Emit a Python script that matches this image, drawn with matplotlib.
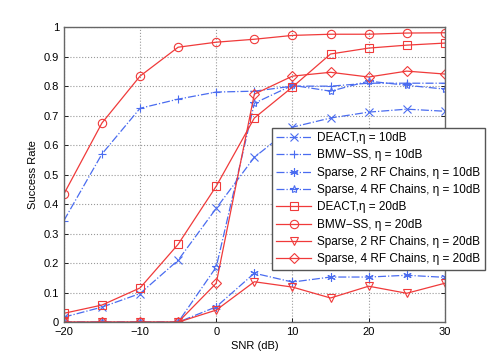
import numpy as np
import matplotlib.pyplot as plt

plt.rcParams['font.family'] = ['Liberation Sans', 'DejaVu Sans']
plt.rcParams['font.size'] = 8

snr = [-20, -15, -10, -5, 0, 5, 10, 15, 20, 25, 30]

deact_10 = [0.017, 0.051, 0.097, 0.21, 0.386, 0.559, 0.661, 0.692, 0.712, 0.722, 0.715]
bmw_10 = [0.344, 0.570, 0.725, 0.756, 0.780, 0.783, 0.800, 0.800, 0.810, 0.810, 0.810]
sp2_10 = [0, 0, 0, 0, 0.052, 0.166, 0.136, 0.153, 0.153, 0.159, 0.152]
sp4_10 = [0, 0, 0, 0, 0.187, 0.742, 0.803, 0.783, 0.817, 0.803, 0.790]

deact_20 = [0.030, 0.058, 0.116, 0.264, 0.461, 0.692, 0.797, 0.909, 0.929, 0.939, 0.946]
bmw_20 = [0.434, 0.675, 0.834, 0.932, 0.949, 0.959, 0.972, 0.976, 0.976, 0.980, 0.981]
sp2_20 = [0, 0, 0, 0, 0.041, 0.137, 0.119, 0.082, 0.122, 0.098, 0.132]
sp4_20 = [0, 0, 0, 0, 0.132, 0.773, 0.834, 0.847, 0.831, 0.851, 0.841]

labels = ['DEACT,\u03b7 = 10dB', 'BMW\u2212SS, \u03b7 = 10dB',
          'Sparse, 2 RF Chains, \u03b7 = 10dB', 'Sparse, 4 RF Chains, \u03b7 = 10dB',
          'DEACT,\u03b7 = 20dB', 'BMW\u2212SS, \u03b7 = 20dB',
          'Sparse, 2 RF Chains, \u03b7 = 20dB', 'Sparse, 4 RF Chains, \u03b7 = 20dB']

blue = '#4a6cf0'
red = '#f03a3a'

fig = plt.figure(figsize=(4.91, 3.62), dpi=100)
ax = fig.add_axes([0.13, 0.11, 0.776, 0.815])

kw_b = dict(color=blue, ls='-.', lw=0.9, mfc='none', ms=6, mew=0.8)
kw_r = dict(color=red, ls='-', lw=0.9, mfc='none', ms=6, mew=0.8)

ax.plot(snr, deact_10, marker='x', label=labels[0], **kw_b)
ax.plot(snr, bmw_10, marker='+', label=labels[1], **kw_b)
ax.plot(snr, sp2_10, marker=(6, 2, 0), label=labels[2], **kw_b)
ax.plot(snr, sp4_10, marker='*', label=labels[3], **kw_b)
ax.plot(snr, deact_20, marker='s', label=labels[4], **kw_r)
ax.plot(snr, bmw_20, marker='o', label=labels[5], **kw_r)
ax.plot(snr, sp2_20, marker='v', label=labels[6], **kw_r)
ax.plot(snr, sp4_20, marker='D', label=labels[7], **{**kw_r, 'ms': 5})

ax.set_xlim(-20, 30)
ax.set_ylim(0, 1)
ax.set_xticks([-20, -10, 0, 10, 20, 30])
ax.set_yticks(np.arange(0, 1.01, 0.1))
ax.set_xticklabels(['\u221220', '\u221210', '0', '10', '20', '30'])
ax.set_yticklabels(['0', '0.1', '0.2', '0.3', '0.4', '0.5', '0.6', '0.7', '0.8', '0.9', '1'])
ax.tick_params(direction='in', length=3, width=0.6, top=False, right=True)
ax.grid(True, ls=':', color='#999999', lw=0.8)
for s in ax.spines.values():
    s.set_color('#666666')
    s.set_linewidth(1.0)

ax.set_xlabel('SNR (dB)', labelpad=3)
ax.set_ylabel('Success Rate', labelpad=4)

leg = ax.legend(loc='upper left', bbox_to_anchor=(0.546, 0.658), borderaxespad=0,
                fancybox=False, framealpha=1, edgecolor='#555555', fontsize=8.5,
                handlelength=3.0, labelspacing=0.45, borderpad=0.35, handletextpad=0.5)
leg.get_frame().set_linewidth(1.0)

fig.savefig('out.png', dpi=100)
